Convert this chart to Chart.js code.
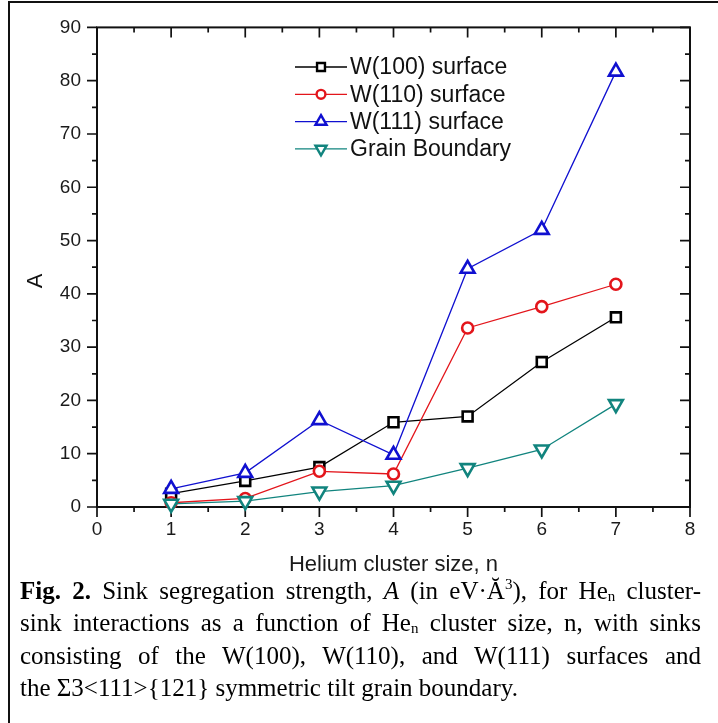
<!DOCTYPE html>
<html>
<head>
<meta charset="utf-8">
<script src="https://cdn.jsdelivr.net/npm/chart.js@4.4.1/dist/chart.umd.min.js"></script>
<style>
  body { margin: 0; background: #fff; width: 718px; height: 723px; overflow: hidden; position: relative; }
  #box { position: absolute; left: 8px; top: 1px; width: 760px; height: 760px; border-left: 2px solid #111; border-top: 2px solid #111; }
  #chart { position: absolute; left: 0; top: 0; }
  #caption { position: absolute; left: 20px; top: 575px; width: 681px; font-family: "Liberation Serif", "Times New Roman", serif; font-size: 25px; line-height: 32.3px; color: #000; }
  #caption .ln { display: block; text-align: justify; text-align-last: justify; }
  #caption .end { display: block; text-align: left; }
  #caption sub { font-size: 15px; vertical-align: -2px; line-height: 0; }
  #caption sup { font-size: 15px; vertical-align: 10px; line-height: 0; }
</style>
</head>
<body>
<div id="box"></div>
<canvas id="chart" width="718" height="580"></canvas>
<div id="caption">
  <span class="ln"><b>Fig. 2.</b> Sink segregation strength, <i>A</i> (in eV·Ă<sup>3</sup>), for He<sub>n</sub> cluster-</span>
  <span class="ln">sink interactions as a function of He<sub>n</sub> cluster size, n, with sinks</span>
  <span class="ln">consisting of the W(100), W(110), and W(111) surfaces and</span>
  <span class="end">the Σ3&lt;111&gt;{121} symmetric tilt grain boundary.</span>
</div>
<script>
// helium cluster size n and sink strength A for each sink
const clusterSize = [1, 2, 3, 4, 5, 6, 7];
const w100 = [2.5, 4.9, 7.5, 15.9, 17.0, 27.2, 35.6];
const w110 = [0.8, 1.6, 6.7, 6.2, 33.6, 37.6, 41.8];
const w111 = [3.4, 6.4, 16.3, 9.8, 44.7, 52.0, 81.7];
const grainBoundary = [0.6, 1.1, 2.9, 4.0, 7.3, 10.8, 19.3];

const xTicks = [0, 1, 2, 3, 4, 5, 6, 7, 8];
const yTicks = [0, 10, 20, 30, 40, 50, 60, 70, 80, 90];

const FONT = '"Liberation Sans", Arial, sans-serif';

function pts(vals) {
    return clusterSize.map((n, i) => ({ x: n, y: vals[i] }));
}

function series(label, vals, color, style, radius, rot) {
    return {
        label: label,
        data: pts(vals),
        borderColor: color,
        borderWidth: 1.3,
        pointStyle: style,
        pointRadius: radius,
        pointRotation: rot || 0,
        pointBorderColor: color,
        pointBackgroundColor: '#fff',
        pointBorderWidth: 2.6,
        tension: 0,
        clip: false
    };
}

let datasets = [
    series('W(100) surface', w100, '#000000', 'rect', 7),
    series('W(110) surface', w110, '#e3151b', 'circle', 5.5),
    series('W(111) surface', w111, '#1010d0', 'triangle', 8),
    series('Grain Boundary', grainBoundary, '#11847e', 'triangle', 8, 180)
];
// later series sit on top of earlier ones
datasets.forEach((d, i) => d.order = datasets.length - 1 - i);

// frame round the plot, outward ticks bottom/left, inward ticks top/right
const axisBox = {
    id: 'axisBox',
    beforeDatasetsDraw(chart) {
        const ctx = chart.ctx, a = chart.chartArea;
        const x = chart.scales.x, y = chart.scales.y;
        ctx.save();
        ctx.strokeStyle = '#111';
        ctx.lineWidth = 2;
        ctx.strokeRect(a.left, a.top, a.right - a.left, a.bottom - a.top);
        ctx.lineWidth = 1.7;
        ctx.beginPath();
        for (let v = 0; v <= 8; v += 0.5) {
            const px = x.getPixelForValue(v);
            const len = Number.isInteger(v) ? 10 : 5;
            ctx.moveTo(px, a.bottom); ctx.lineTo(px, a.bottom + len);
            ctx.moveTo(px, a.top); ctx.lineTo(px, a.top + len);
        }
        for (let v = 0; v <= 90; v += 5) {
            const py = y.getPixelForValue(v);
            const len = v % 10 === 0 ? 10 : 5;
            ctx.moveTo(a.left - len, py); ctx.lineTo(a.left, py);
            ctx.moveTo(a.right - len, py); ctx.lineTo(a.right, py);
        }
        ctx.stroke();
        ctx.restore();
    }
};

// legend inside the plot: line with the marker in the middle, then the label
const sinkLegend = {
    id: 'sinkLegend',
    afterDatasetsDraw(chart) {
        const ctx = chart.ctx;
        ctx.save();
        chart.data.datasets.forEach((ds, i) => {
            const cy = 67 + i * 27.3;
            ctx.strokeStyle = ds.borderColor;
            ctx.lineWidth = 1.3;
            ctx.beginPath();
            ctx.moveTo(295, cy); ctx.lineTo(347, cy);
            ctx.stroke();
            ctx.fillStyle = '#fff';
            ctx.lineWidth = 2.4;
            Chart.helpers.drawPoint(ctx, {
                pointStyle: ds.pointStyle,
                rotation: ds.pointRotation,
                radius: ds.pointRadius * 0.8,
                borderWidth: 2.4
            }, 321, cy);
            ctx.fillStyle = '#111';
            ctx.font = '23px ' + FONT;
            ctx.textAlign = 'left';
            ctx.textBaseline = 'middle';
            ctx.fillText(ds.label, 350, cy + 1);
        });
        // y axis title
        ctx.font = '22px ' + FONT;
        ctx.translate(36, 281);
        ctx.rotate(-Math.PI / 2);
        ctx.textAlign = 'center';
        ctx.fillText('A', 0, 0);
        ctx.restore();
    }
};

new Chart(document.getElementById('chart').getContext('2d'), {
    type: 'line',
    data: { datasets: datasets },
    options: {
        responsive: false,
        animation: false,
        layout: { padding: { top: 27, right: 28, left: 0, bottom: 0 } },
        plugins: { legend: { display: false }, tooltip: { enabled: false } },
        scales: {
            x: {
                type: 'linear', min: 0, max: 8,
                afterBuildTicks: s => { s.ticks = xTicks.map(v => ({ value: v })); },
                afterFit: s => { s.height = 73; },
                grid: { display: false, drawTicks: false },
                border: { display: false },
                ticks: { color: '#1a1a1a', font: { family: FONT, size: 19 }, padding: 11 },
                title: { display: true, text: 'Helium cluster size, n', color: '#1a1a1a',
                         font: { family: FONT, size: 22 }, padding: { top: 0, bottom: 2 } }
            },
            y: {
                type: 'linear', min: 0, max: 90,
                afterBuildTicks: s => { s.ticks = yTicks.map(v => ({ value: v })); },
                afterFit: s => { s.width = 97; },
                grid: { display: false, drawTicks: false },
                border: { display: false },
                ticks: { color: '#1a1a1a', font: { family: FONT, size: 19 }, padding: 16 }
            }
        }
    },
    plugins: [axisBox, sinkLegend]
});
</script>
</body>
</html>
